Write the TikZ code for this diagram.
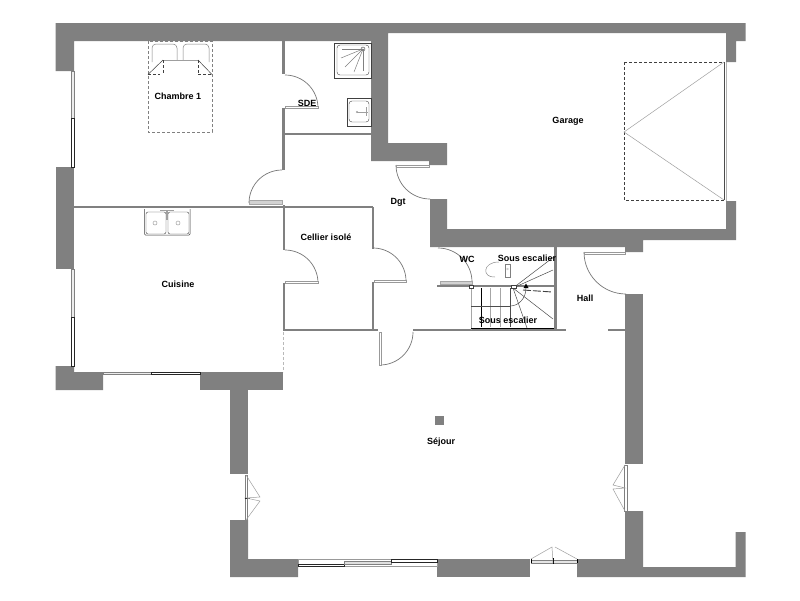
\documentclass[tikz,border=0pt]{standalone}
\usepackage{fontspec}
\setmainfont{Liberation Sans}
\definecolor{wallc}{HTML}{808080}
\definecolor{thinc}{HTML}{777777}
\tikzset{
  wall/.style={fill=wallc,draw=none},
  part/.style={draw=wallc,line width=2.6pt},
  doorarc/.style={draw=thinc,line width=0.7pt},
  leaf/.style={draw=gray!80,line width=0.7pt,fill=white},
  leafg/.style={draw=gray!70,line width=0.7pt,fill=gray!35},
  glass/.style={draw=gray,line width=0.8pt,fill=gray!15},
  glassk/.style={draw=black!85,line width=0.8pt,fill=white},
  furn/.style={draw=black!75,line width=0.5pt},
  furnd/.style={draw=black!75,line width=0.6pt,densely dashed},
  thinl/.style={draw=gray!75,line width=0.5pt},
  stair/.style={draw=black!70,line width=0.5pt},
  stairg/.style={draw=gray!70,line width=0.5pt},
  stairk/.style={draw=black,line width=1pt},
  room/.style={font=\fontsize{9}{10}\selectfont\bfseries,inner sep=0pt,text=black}
}
\begin{document}
\begin{tikzpicture}[x=1pt,y=-1pt]
\useasboundingbox (0,0) rectangle (800,600);
\fill[white] (0,0) rectangle (800,600);
% outer walls, top and garage
\fill[wall] (55.5,23) -- (745.5,23) -- (745.5,41) -- (736,41) -- (736,62) -- (726,62) -- (726,33) -- (388,33) -- (388,143) -- (447,143) -- (447,165) -- (429,165) -- (429,161) -- (371,161) -- (371,41) -- (74,41) -- (74,71) -- (55.5,71) -- cycle;
\fill[wall] (430,199) -- (447,199) -- (447,229) -- (726,229) -- (726,201) -- (736,201) -- (736,240) -- (643,240) -- (643,252) -- (625,252) -- (625,247) -- (430,247) -- cycle;
% left walls
\fill[wall] (55.5,167) rectangle (74,269);
\fill[wall] (55.5,366) -- (74,366) -- (74,372) -- (103,372) -- (103,390) -- (55.5,390) -- cycle;
\fill[wall] (200,372) rectangle (283,390);
\fill[wall] (230,390) rectangle (248,474);
\fill[wall] (230,520) -- (248,520) -- (248,559) -- (298,559) -- (298,577) -- (230,577) -- cycle;
\fill[wall] (437,559) rectangle (530,577);
\fill[wall] (577,559) -- (625,559) -- (625,511) -- (643,511) -- (643,567) -- (735.5,567) -- (735.5,532) -- (745.5,532) -- (745.5,577) -- (577,577) -- cycle;
\fill[wall] (625,294) rectangle (643,464);
\fill[wall] (435,416) rectangle (444,425);
% partitions
\draw[part] (283.5,41) -- (283.5,74);
\draw[part] (283.5,108) -- (283.5,170);
\draw[part] (283.5,134) -- (371,134);
\draw[part] (74,207) -- (373,207);
\draw[part] (284,205) -- (284,250);
\draw[part] (284,283) -- (284,330);
\draw[part] (283,330) -- (378,330);
\draw[part] (373,207) -- (373,249);
\draw[part] (373,282) -- (373,330);
\draw[part,line width=1.6pt] (413,330) -- (566,330);
\draw[part,line width=1.6pt] (608,330) -- (625,330);
\draw[part,line width=2.4pt] (437,286) -- (556,286);
\draw[part,line width=3pt] (555.5,247) -- (555.5,330);
% doors
\draw[doorarc] (285,75) arc[start angle=-90,end angle=0,radius=33];
\draw[leaf] (285,106.5) rectangle (318,108);
\draw[doorarc] (282,170) arc[start angle=-90,end angle=-180,radius=33];
\draw[leafg] (249,200.5) rectangle (282,204);
\draw[doorarc] (396,165) arc[start angle=180,end angle=90,radius=34];
\draw[leaf] (396,165) rectangle (429,167);
\draw[doorarc] (285,250) arc[start angle=-90,end angle=0,radius=33];
\draw[leaf] (285,281.5) rectangle (318,283.5);
\draw[doorarc] (373,248) arc[start angle=-90,end angle=0,radius=33];
\draw[leaf] (374,280.5) rectangle (406,282);
\draw[doorarc] (380,365) arc[start angle=90,end angle=0,radius=33];
\draw[leaf] (379,332) rectangle (381,365);
\draw[doorarc] (438,248) arc[start angle=-90,end angle=0,radius=34];
\draw[leafg] (440,281) rectangle (472,284);
\draw[doorarc] (584,252) arc[start angle=180,end angle=90,radius=42];
\draw[leaf] (584,252) rectangle (625,254);
% left windows
\draw[glass] (71.5,71) rectangle (74,118);
\draw[glassk] (71.5,118) rectangle (74,167);
\draw[glass] (71.5,269) rectangle (74,317);
\draw[glassk] (71.5,317) rectangle (74,366);
% cuisine bay
\draw[glass] (103,372) rectangle (151,374);
\draw[glassk] (151,372) rectangle (200,374);
% cuisine open side
\draw[gray!55,line width=0.4pt,densely dashed] (283,332) -- (283,372);
% garage door
\draw[furnd] (624,62) -- (724,62) (624,62) -- (624,200) -- (724,200);
\draw[thinl] (724,62) -- (624,132) -- (724,200);
\draw[draw=black!70,line width=0.6pt] (724,62) -- (724,200);
\draw[draw=gray!60,line width=0.5pt] (726,62) -- (726,201);
% bed
\draw[furnd,line width=0.4pt,gray] (148,41) rectangle (212,132);
\draw[furnd] (148,74.5) -- (160,74.5) (198,74.5) -- (212,74.5);
\draw[thinl,rounded corners=4pt,draw=gray] (152,62) -- (152,44) -- (177,44) -- (177,60);
\draw[thinl,rounded corners=4pt,draw=gray] (183,60) -- (183,44) -- (209,44) -- (209,62);
\draw[thinl] (163,60) -- (198,60);
\draw[furnd] (163,60) -- (163,74.5) (198,60) -- (198,74.5);
\draw[furn] (148,74.5) -- (163,60) (198,60) -- (212,74.5);
% shower
\draw[furn] (334,43) rectangle (371,78);
\draw[furn,rounded corners=3pt,line width=0.4pt] (337,45) rectangle (369,75);
\draw[furn,line width=0.4pt] (363,49) circle[radius=2];
\foreach \a/\b in {342/49,341/58,345/67,354/72,363/71}{\draw[thinl,draw=gray] (363,49) -- (\a,\b);}
% washbasin
\draw[furn] (347,98) rectangle (371,126);
\draw[furn,rounded corners=3pt,line width=0.4pt] (349,101) rectangle (369,122);
\draw[thinl,line width=0.3pt] (357,112) -- (368,112) (366,107) -- (366,116);
\draw[thinl] (357,112) circle[radius=0.8];
% kitchen sink
\draw[furn,rounded corners=1pt] (144.5,209) -- (144.5,235) -- (190,235) -- (190,209);
\draw[furn,rounded corners=2pt,line width=0.4pt] (146,212) rectangle (166,234);
\draw[furn,rounded corners=2pt,line width=0.4pt] (168,212) rectangle (189,234);
\draw[thinl,line width=0.8pt] (160,210) -- (174,210);
\draw[thinl,line width=1.2pt] (167,210) -- (167,220);
\draw[thinl] (155,223) circle[radius=2] (178,223) circle[radius=2];
% sejour french windows
\draw[glass,fill=white] (245,475) rectangle (247.5,520);
\draw[draw=black,line width=0.8pt] (244.5,498) -- (250,498);
\draw[thinl] (246,475) -- (260,497) -- (246,498) -- (260,501) -- (246,520);
\draw[glass,fill=white] (624,465) rectangle (627,511);
\draw[thinl] (625,465) -- (613,485) -- (625,488) -- (613,489) -- (625,511);
% bottom glazing
\draw[draw=gray!80,line width=0.5pt,fill=white] (298,559) rectangle (437,566);
\draw[glassk] (298,564) rectangle (344,566.5);
\draw[glass,fill=gray!25] (344,561.5) rectangle (391,564.5);
\draw[glassk] (391,559.5) rectangle (437,562);
\draw[glass,fill=gray!20] (531,560) rectangle (577,563);
\draw[draw=black,line width=0.8pt] (531,559) -- (531,563) (577,559) -- (577,563) (553.5,558) -- (553.5,564);
\draw[thinl] (531,559) -- (552,547) -- (553,563) (555,547) -- (577,559);
% stairs
\draw[stairg] (471,288) -- (471,330);
\draw[stairk] (481,288) -- (481,327);
\draw[stairg,line width=0.7pt] (490,288) -- (490,327) (500,288) -- (500,327);
\draw[stair] (510,288) -- (510,327);
\draw[stair] (471,306) -- (510,306);
\draw[stairk,line width=0.9pt] (471,328.5) -- (554,328.5);
\draw[stair] (510,306) .. controls (519,306) and (526,298) .. (526,288);
\draw[stair] (513,288) -- (555,256);
\draw[stair] (513,288) -- (553,270);
\draw[stair] (513,288) -- (553,319);
\draw[stair] (513,288) -- (527,328);
\draw[furn,line width=0.9pt,dash pattern=on 8pt off 2pt] (523,290) -- (552,292);
\draw[furn,line width=0.5pt,fill=white] (469,285) rectangle (473,288);
\draw[furn,line width=0.5pt,fill=white] (511,285) rectangle (516,288);
\fill[black] (526,283.5) -- (523.5,288) -- (528.5,288) -- cycle;
% WC fixtures
\draw[thinl,draw=gray] (505,264) rectangle (510,277);
\draw[thinl,line width=0.3pt] (507.5,269) circle[radius=1];
\draw[stair,draw=gray!90] (499,262) .. controls (482,262) and (482,278) .. (495,277);
% labels
\node[room] (lch) at (178,96) {Chambre 1};
\node[room] (lsde) at (307,103) {SDE};
\node[room] (lgar) at (568,121) {Garage};
\node[room] (ldgt) at (398,202) {Dgt};
\node[room] (lcel) at (326,237) {Cellier isolé};
\node[room] (lcui) at (178,284) {Cuisine};
\node[room] (lwc) at (467,259) {WC};
\node[room] (lse1) at (527,258) {Sous escalier};
\node[room] (lse2) at (508,320) {Sous escalier};
\node[room] (lhal) at (585,298) {Hall};
\node[room] (lsej) at (441,442) {Séjour};
\end{tikzpicture}
\end{document}
